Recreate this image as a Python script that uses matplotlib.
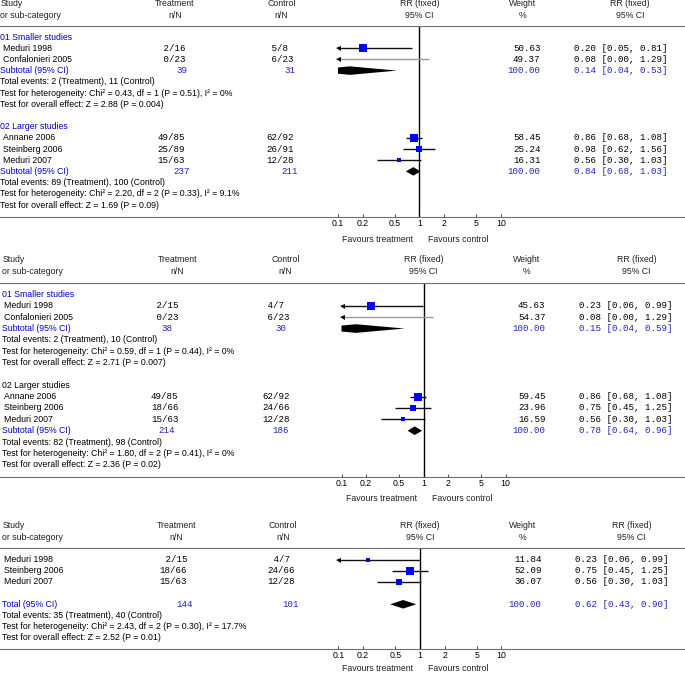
import matplotlib
matplotlib.use("Agg")
import matplotlib.pyplot as plt
import matplotlib.transforms as mtransforms
import numpy as np

W, H = 685, 674
plt.rcParams['font.family'] = ['Liberation Sans', 'DejaVu Sans']

# ---- panel 1 data ----
p1_names = ["Meduri 1998", "Confalonieri 2005", "Annane 2006", "Steinberg 2006", "Meduri 2007"]
p1_treat = ["2/16", "0/23", "49/85", "25/89", "15/63"]
p1_ctrl = ["5/8", "6/23", "62/92", "26/91", "12/28"]
p1_weight = [50.63, 49.37, 58.45, 25.24, 16.31]
p1_rr = [0.20, 0.08, 0.86, 0.98, 0.56]
p1_lo = [0.05, 0.00, 0.68, 0.62, 0.30]
p1_hi = [0.81, 1.29, 1.08, 1.56, 1.03]
p1_group = [0, 0, 1, 1, 1]
p1_heads = ["01 Smaller studies", "02 Larger studies"]
p1_head_blue = [True, True]
p1_sub_treat = ["39", "237"]
p1_sub_ctrl = ["31", "211"]
p1_sub_rr = [0.14, 0.84]
p1_sub_lo = [0.04, 0.68]
p1_sub_hi = [0.53, 1.03]
p1_events = ["Total events: 2 (Treatment), 11 (Control)",
             "Total events: 89 (Treatment), 100 (Control)"]
p1_het = ["Test for heterogeneity: Chi² = 0.43, df = 1 (P = 0.51), I² = 0%",
          "Test for heterogeneity: Chi² = 2.20, df = 2 (P = 0.33), I² = 9.1%"]
p1_overall = ["Test for overall effect: Z = 2.88 (P = 0.004)",
              "Test for overall effect: Z = 1.69 (P = 0.09)"]

# ---- panel 2 data ----
p2_names = ["Meduri 1998", "Confalonieri 2005", "Annane 2006", "Steinberg 2006", "Meduri 2007"]
p2_treat = ["2/15", "0/23", "49/85", "18/66", "15/63"]
p2_ctrl = ["4/7", "6/23", "62/92", "24/66", "12/28"]
p2_weight = [45.63, 54.37, 59.45, 23.96, 16.59]
p2_rr = [0.23, 0.08, 0.86, 0.75, 0.56]
p2_lo = [0.06, 0.00, 0.68, 0.45, 0.30]
p2_hi = [0.99, 1.29, 1.08, 1.25, 1.03]
p2_group = [0, 0, 1, 1, 1]
p2_heads = ["01 Smaller studies", "02 Larger studies"]
p2_head_blue = [True, False]
p2_sub_treat = ["38", "214"]
p2_sub_ctrl = ["30", "186"]
p2_sub_rr = [0.15, 0.78]
p2_sub_lo = [0.04, 0.64]
p2_sub_hi = [0.59, 0.96]
p2_events = ["Total events: 2 (Treatment), 10 (Control)",
             "Total events: 82 (Treatment), 98 (Control)"]
p2_het = ["Test for heterogeneity: Chi² = 0.59, df = 1 (P = 0.44), I² = 0%",
          "Test for heterogeneity: Chi² = 1.80, df = 2 (P = 0.41), I² = 0%"]
p2_overall = ["Test for overall effect: Z = 2.71 (P = 0.007)",
              "Test for overall effect: Z = 2.36 (P = 0.02)"]

# ---- panel 3 data ----
p3_names = ["Meduri 1998", "Steinberg 2006", "Meduri 2007"]
p3_treat = ["2/15", "18/66", "15/63"]
p3_ctrl = ["4/7", "24/66", "12/28"]
p3_weight = [11.84, 52.09, 36.07]
p3_rr = [0.23, 0.75, 0.56]
p3_lo = [0.06, 0.45, 0.30]
p3_hi = [0.99, 1.25, 1.03]
p3_group = [0, 0, 0]
p3_heads = [None]
p3_head_blue = [False]
p3_sub_treat = ["144"]
p3_sub_ctrl = ["101"]
p3_sub_rr = [0.62]
p3_sub_lo = [0.43]
p3_sub_hi = [0.90]
p3_events = ["Total events: 35 (Treatment), 40 (Control)"]
p3_het = ["Test for heterogeneity: Chi² = 2.43, df = 2 (P = 0.30), I² = 17.7%"]
p3_overall = ["Test for overall effect: Z = 2.52 (P = 0.01)"]

ticks = [0.1, 0.2, 0.5, 1, 2, 5, 10]
tick_labels = ["0.1", "0.2", "0.5", "1", "2", "5", "10"]

BLUE = '#0000cc'
MBLUE = '#2222c8'
SQ = '#0000ff'
SANS = 6.3
MONO = 6.6
ADV = 0.6 * MONO * 100 / 72   # monospace advance in px

fig = plt.figure(figsize=(W / 100, H / 100), dpi=100)


def fx(px):
    return px / W


def fy(py):
    return 1 - py / H


def draw_panel(lay, names, treat, ctrl, weight, rr, lo, hi, group, heads, head_blue,
               sub_treat, sub_ctrl, sub_rr, sub_lo, sub_hi, events, het, overall,
               total_label="Subtotal (95% CI)", gap_before_total=False):
    top, bot = lay['top'], lay['bottom']
    ax = fig.add_axes([0, fy(bot), 1, (bot - top) / H])
    ax.set_xscale('log')
    ax.set_xlim(10 ** (-lay['one'] / lay['dec']), 10 ** ((W - lay['one']) / lay['dec']))
    ax.set_ylim((bot - lay['row0']) / lay['pitch'], (top - lay['row0']) / lay['pitch'])
    for s in ['left', 'right']:
        ax.spines[s].set_visible(False)
    ax.spines['top'].set_color('#6e6e6e')
    ax.spines['bottom'].set_color('#6e6e6e')
    ax.set_yticks([])
    ax.set_xticks(ticks)
    ax.set_xticklabels(tick_labels)
    ax.minorticks_off()
    ax.tick_params(axis='x', direction='in', length=2.5, width=0.8, color='#555555',
                   labelsize=SANS, pad=1.8)
    ax.axvline(1, color='black', lw=1)
    ax.patch.set_alpha(0)

    tr = mtransforms.blended_transform_factory(fig.transFigure, ax.transData)
    c = lay

    def txt(x, y, s, ha='left', color='black', mono=False):
        ax.text(fx(x), y, s, transform=tr, ha=ha, va='center', color=color,
                fontsize=MONO if mono else SANS,
                family='Liberation Mono' if mono else ['Liberation Sans', 'DejaVu Sans'])

    # header
    htr = mtransforms.blended_transform_factory(ax.transData, fig.transFigure)
    for (y, a, b, cc, d, e) in [(c['h1'], "Study", "Treatment", "Control", "RR (fixed)", "Weight"),
                                (c['h2'], "or sub-category", "n/N", "n/N", "95% CI", "%")]:
        kw = dict(va='center', fontsize=SANS, color='#222222')
        fig.text(fx(c['sx']), fy(y), a, ha='left', **kw)
        fig.text(fx(c['th']), fy(y), b, ha='center', **kw)
        fig.text(fx(c['ch']), fy(y), cc, ha='center', **kw)
        ax.text(1, fy(y), d, transform=htr, ha='center', clip_on=False, **kw)
        fig.text(fx(c['wh']), fy(y), e, ha='center', **kw)
        fig.text(fx(c['rh']), fy(y), d, ha='center', **kw)

    row = 0
    for g in range(len(heads)):
        if heads[g] is not None:
            txt(c['sx'], row, heads[g], color=BLUE if head_blue[g] else 'black')
            row += 1
        for i in range(len(names)):
            if group[i] != g:
                continue
            txt(c['nx'], row, names[i])
            # align n/N on the slash
            num, den = treat[i].split('/')
            txt(c['ts'] - 2 * ADV, row, f"{num:>2}/{den}", mono=True)
            num, den = ctrl[i].split('/')
            txt(c['cs'] - 2 * ADV, row, f"{num:>2}/{den}", mono=True)
            txt(c['wr'], row, f"{weight[i]:.2f}", ha='right', mono=True)
            txt(c['rl'], row, f"{rr[i]:.2f} [{lo[i]:.2f}, {hi[i]:.2f}]", mono=True)
            left = max(lo[i], 0.1)
            lc = '#9a9a9a' if rr[i] < 0.1 else '#111111'
            ax.plot([left, hi[i]], [row, row], color=lc, lw=1, solid_capstyle='butt')
            if lo[i] < 0.1:
                ax.plot([0.1], [row], marker='<', ms=3.6, color='black', mew=0)
            if rr[i] >= 0.1:
                side = 1.15 * np.sqrt(weight[i]) * 0.72
                ax.plot([rr[i]], [row], marker='s', ms=side, color=SQ, mew=0)
            row += 1
        if gap_before_total:
            row += 1
        txt(c['sx'], row, total_label, color=BLUE)
        txt(c['tt'], row, sub_treat[g], ha='center', color=MBLUE, mono=True)
        txt(c['ct'], row, sub_ctrl[g], ha='center', color=MBLUE, mono=True)
        txt(c['wr'], row, "100.00", ha='right', color=MBLUE, mono=True)
        txt(c['rl'], row, f"{sub_rr[g]:.2f} [{sub_lo[g]:.2f}, {sub_hi[g]:.2f}]",
            color=MBLUE, mono=True)
        # diamond (clipped at the left edge of the scale)
        h = 0.38
        L, C, R = np.log10(sub_lo[g]), np.log10(sub_rr[g]), np.log10(sub_hi[g])
        if sub_lo[g] < 0.1:
            hc = h * (-1 - L) / (C - L)
            xs = [0.1, sub_rr[g], sub_hi[g], sub_rr[g], 0.1]
            ys = [row - hc, row - h, row, row + h, row + hc]
        else:
            xs = [sub_lo[g], sub_rr[g], sub_hi[g], sub_rr[g]]
            ys = [row, row - h, row, row + h]
        ax.fill(xs, ys, color='black', lw=0)
        row += 1
        for s in (events[g], het[g], overall[g]):
            txt(c['sx'], row, s)
            row += 1
        row += 1

    for s, ha, dx in [("Favours treatment", 'right', -5), ("Favours control", 'left', 6)]:
        ax.annotate(s, xy=(1, 0), xycoords=('data', 'axes fraction'),
                    xytext=(dx, c['fav']), textcoords='offset points', ha=ha, va='center',
                    fontsize=SANS, color='#222222')
    return ax


lay1 = dict(top=26, bottom=216.5, row0=37, pitch=11.2, one=419.5, dec=81.5,
            h1=4, h2=15, sx=0.5, nx=3, th=175, ch=281.7, wh=522.7, rh=630,
            ts=168.5, cs=277.5, tt=181.5, ct=289.5, wr=540.5, rl=574, fav=-16.2)
lay2 = dict(top=283, bottom=476.7, row0=294.5, pitch=11.35, one=423.5, dec=82,
            h1=260, h2=272, sx=2.5, nx=4.5, th=177.5, ch=285.5, wh=527, rh=636.7,
            ts=162, cs=273.5, tt=167, ct=281, wr=545.5, rl=579, fav=-15.5)
lay3 = dict(top=548, bottom=649, row0=559.5, pitch=11.2, one=420, dec=81.5,
            h1=525, h2=537, sx=2.5, nx=4, th=176.3, ch=283, wh=522.7, rh=631.7,
            ts=170.5, cs=278.5, tt=184.3, ct=291, wr=541.5, rl=575, fav=-14.0)

draw_panel(lay1, p1_names, p1_treat, p1_ctrl, p1_weight, p1_rr, p1_lo, p1_hi, p1_group,
           p1_heads, p1_head_blue, p1_sub_treat, p1_sub_ctrl, p1_sub_rr, p1_sub_lo, p1_sub_hi,
           p1_events, p1_het, p1_overall)
draw_panel(lay2, p2_names, p2_treat, p2_ctrl, p2_weight, p2_rr, p2_lo, p2_hi, p2_group,
           p2_heads, p2_head_blue, p2_sub_treat, p2_sub_ctrl, p2_sub_rr, p2_sub_lo, p2_sub_hi,
           p2_events, p2_het, p2_overall)
draw_panel(lay3, p3_names, p3_treat, p3_ctrl, p3_weight, p3_rr, p3_lo, p3_hi, p3_group,
           p3_heads, p3_head_blue, p3_sub_treat, p3_sub_ctrl, p3_sub_rr, p3_sub_lo, p3_sub_hi,
           p3_events, p3_het, p3_overall, total_label="Total (95% CI)", gap_before_total=True)

fig.savefig("out.png", dpi=100, facecolor='white')
